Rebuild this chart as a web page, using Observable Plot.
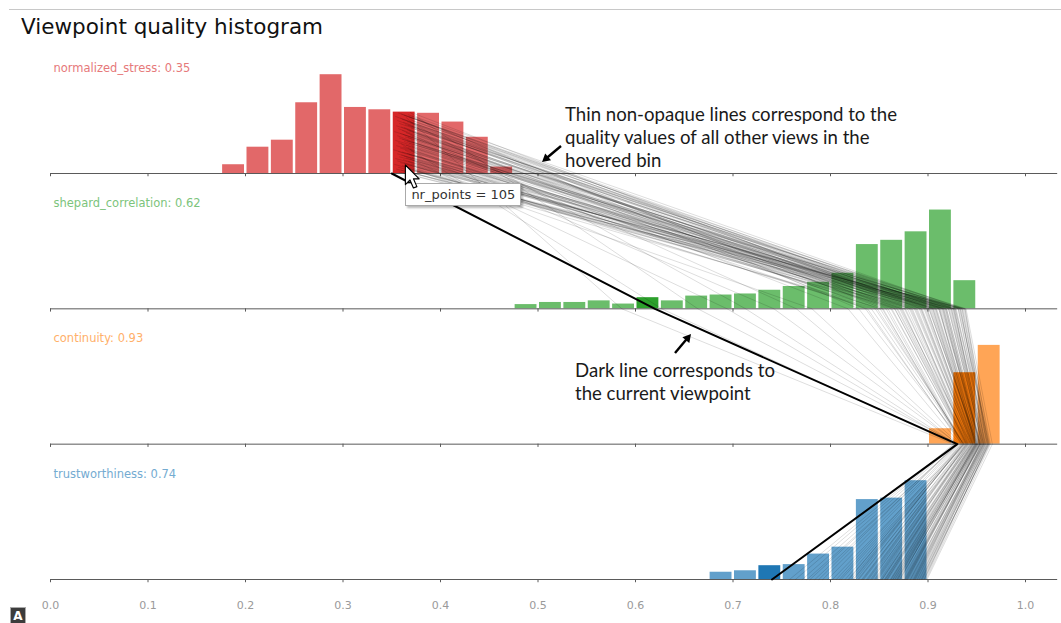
<!DOCTYPE html>
<html>
<head>
<meta charset="utf-8">
<script src="https://cdn.jsdelivr.net/npm/d3@7"></script>
<script src="https://cdn.jsdelivr.net/npm/@observablehq/plot@0.6"></script>
<style>
  html, body { margin: 0; padding: 0; background: #fff; }
  #page { position: relative; width: 1061px; height: 623px; overflow: hidden; font-family: "DejaVu Sans", sans-serif; }
  #rule { position: absolute; left: 9px; right: 0; top: 9px; border-top: 1px solid #c8c8c8; }
  #title { position: absolute; left: 21px; top: 14px; font-size: 21.5px; color: #111; white-space: nowrap; }
  #chart { position: absolute; left: 0; top: 30px; }
  .note { position: absolute; font-family: Lato, sans-serif; font-size: 18.6px; line-height: 23px; color: #1a1a1a; white-space: nowrap; }
  #tip { position: absolute; background: #fff; border: 1px solid #aaa; box-shadow: 2px 2px 2px rgba(0,0,0,0.28);
         font-size: 13px; color: #333; height: 21px; line-height: 21px; padding: 0 5px; white-space: nowrap; }
  #overlay { position: absolute; left: 0; top: 0; pointer-events: none; }
  #badge { position: absolute; left: 10px; top: 607px; width: 14px; height: 16px; background: #3c3c3c; border: 1px solid #aaa;
           color: #fff; font-size: 12px; font-weight: bold; line-height: 16px; text-align: center; }
</style>
</head>
<body>
<div id="page">
  <div id="rule"></div>
  <div id="title">Viewpoint quality histogram</div>
  <div id="chart"></div>
  <div class="note" id="noteThin">Thin non-opaque lines correspond to the<br>quality values of all other views in the<br>hovered bin</div>
  <div class="note" id="noteDark">Dark line corresponds to<br>the current viewpoint</div>
  <div id="tip"></div>
  <svg id="overlay" width="1061" height="623"></svg>
  <div id="badge">A</div>
</div>
<script>
// Quality metrics, one histogram row each
const metrics = ["normalized_stress", "shepard_correlation", "continuity", "trustworthiness"];
const metricColors = ["#d62728", "#2ca02c", "#ff7f0e", "#1f77b4"];
// Quality values of the current viewpoint
const currentValues = [0.35, 0.62, 0.93, 0.74];

// Histogram bins (width 0.025): first bin start and counts per bin
const binWidth = 0.025;
const stressStart = 0.175;
const stressCounts = [15, 45, 57, 121, 169, 113, 109, 105, 103, 88, 62, 11];
const shepardStart = 0.475;
const shepardCounts = [8, 12, 12, 15, 9, 21, 15, 24, 26, 28, 35, 42, 50, 67, 121, 129, 145, 186, 53];
const continuityStart = 0.9;
const continuityCounts = [83, 384, 531];
const trustStart = 0.675;
const trustCounts = [20, 24, 38, 41, 70, 89, 220, 224, 272];

// Quality values of the other views in the hovered normalized_stress bin
const viewStress = [
  0.362,0.371,0.358,0.366,0.374,0.360,0.369,0.355,0.372,0.364,
  0.357,0.368,0.373,0.361,0.366,0.353,0.370,0.363,0.359,0.374,
  0.367,0.356,0.372,0.362,0.369,0.354,0.365,0.371,0.358,0.363,
  0.373,0.360,0.368,0.356,0.366,0.372,0.361,0.357,0.370,0.364,
  0.352,0.369,0.374,0.359,0.367,0.362,0.371,0.355,0.365,0.373,
  0.360,0.368,0.357,0.372,0.363,0.366,0.354,0.370,0.361,0.374,
  0.358,0.367,0.364,0.371,0.356,0.369,0.362,0.373,0.359,0.365,
  0.372,0.353,0.368,0.361,0.366,0.374,0.357,0.370,0.363,0.360,
  0.371,0.355,0.367,0.364,0.373,0.358,0.369,0.362,0.366,0.372,
  0.356,0.370,0.361,0.374,0.359,0.365,0.368,0.354,0.371,0.363,
  0.367,0.360,0.373,0.357,0.369];
const viewShepard = [
  0.912,0.884,0.927,0.853,0.901,0.938,0.872,0.918,0.846,0.893,
  0.925,0.868,0.907,0.781,0.931,0.889,0.915,0.842,0.936,0.898,
  0.876,0.921,0.862,0.909,0.694,0.928,0.887,0.903,0.934,0.857,
  0.917,0.879,0.896,0.924,0.838,0.911,0.932,0.866,0.905,0.742,
  0.919,0.891,0.929,0.874,0.908,0.851,0.937,0.883,0.913,0.899,
  0.627,0.922,0.869,0.906,0.935,0.881,0.916,0.848,0.926,0.894,
  0.911,0.863,0.933,0.902,0.818,0.923,0.886,0.914,0.871,0.939,
  0.897,0.924,0.859,0.765,0.908,0.931,0.877,0.918,0.892,0.836,
  0.927,0.905,0.882,0.938,0.713,0.915,0.866,0.921,0.899,0.933,
  0.873,0.912,0.926,0.854,0.904,0.586,0.919,0.888,0.935,0.901,
  0.829,0.916,0.893,0.928,0.664];
const viewContinuity = [
  0.948,0.941,0.955,0.936,0.951,0.960,0.944,0.953,0.938,0.947,
  0.957,0.940,0.950,0.932,0.959,0.945,0.952,0.937,0.962,0.949,
  0.943,0.956,0.939,0.951,0.928,0.961,0.946,0.950,0.958,0.935,
  0.954,0.942,0.948,0.957,0.934,0.953,0.963,0.940,0.949,0.931,
  0.955,0.946,0.959,0.939,0.952,0.936,0.964,0.944,0.954,0.948,
  0.927,0.956,0.941,0.950,0.961,0.943,0.953,0.937,0.958,0.947,
  0.951,0.938,0.962,0.949,0.933,0.957,0.945,0.954,0.940,0.966,
  0.948,0.955,0.936,0.930,0.950,0.960,0.942,0.953,0.946,0.935,
  0.957,0.949,0.944,0.963,0.929,0.952,0.939,0.956,0.947,0.961,
  0.941,0.951,0.958,0.934,0.949,0.926,0.954,0.945,0.962,0.950,
  0.937,0.953,0.946,0.959,0.931];
const viewTrust = [
  0.872,0.851,0.889,0.823,0.866,0.894,0.842,0.878,0.811,0.858,
  0.885,0.834,0.869,0.792,0.891,0.855,0.876,0.818,0.897,0.862,
  0.846,0.881,0.828,0.871,0.771,0.893,0.853,0.864,0.887,0.826,
  0.879,0.845,0.859,0.884,0.806,0.873,0.895,0.837,0.868,0.784,
  0.882,0.857,0.890,0.841,0.870,0.815,0.898,0.849,0.877,0.863,
  0.764,0.886,0.832,0.867,0.893,0.848,0.880,0.821,0.888,0.856,
  0.874,0.829,0.896,0.865,0.797,0.883,0.852,0.876,0.838,0.899,
  0.861,0.885,0.824,0.779,0.869,0.892,0.843,0.879,0.858,0.809,
  0.887,0.866,0.847,0.894,0.788,0.875,0.833,0.882,0.862,0.891,
  0.839,0.871,0.886,0.819,0.864,0.758,0.878,0.853,0.896,0.868,
  0.802,0.877,0.856,0.889,0.776];

// Axis ticks
const xTicks = [0, 0.1, 0.2, 0.3, 0.4, 0.5, 0.6, 0.7, 0.8, 0.9, 1.0];

// ---- layout helpers: row k (1..4) has its baseline at y = k
const barScale = 0.73;      // tallest bar of a row, in row units
const histograms = [
  {start: stressStart, counts: stressCounts},
  {start: shepardStart, counts: shepardCounts},
  {start: continuityStart, counts: continuityCounts},
  {start: trustStart, counts: trustCounts}
];
const lighten = (c, t) => d3.interpolateRgb("#ffffff", c)(t);

const bars = [];
histograms.forEach((h, k) => {
  const max = d3.max(h.counts);
  const hot = Math.floor((currentValues[k] - h.start) / binWidth + 1e-9);
  h.hot = hot; h.max = max;
  h.counts.forEach((c, i) => {
    bars.push({
      x1: h.start + i * binWidth,
      x2: h.start + (i + 1) * binWidth,
      y1: k + 1,
      y2: k + 1 - c / max * barScale,
      fill: i === hot ? metricColors[k] : lighten(metricColors[k], 0.7)
    });
  });
});

// Polylines of the views in the hovered bin; they leave the hovered bar stacked along its height
const hovered = histograms[0];
const hoverHeight = hovered.counts[hovered.hot] / hovered.max * barScale;
const n = viewStress.length;
const viewPoints = [];
for (let j = 0; j < n; ++j) {
  viewPoints.push({id: j, x: viewStress[j], y: 1 - (j + 0.5) / n * hoverHeight});
  viewPoints.push({id: j, x: viewShepard[j], y: 2});
  viewPoints.push({id: j, x: viewContinuity[j], y: 3});
  viewPoints.push({id: j, x: viewTrust[j], y: 4});
}
const currentPoints = currentValues.map((v, k) => ({x: v, y: k + 1}));

const rowTicks = [];
[1, 2, 3, 4].forEach(k => xTicks.forEach(t => rowTicks.push({k, t})));

const chart = Plot.plot({
  width: 1061,
  height: 593,
  marginLeft: 50,
  marginRight: 36,
  marginTop: 7.67,
  marginBottom: 44,
  x: {domain: [0, 1], label: null},
  y: {domain: [0, 4], reverse: true, axis: null},
  color: {type: "identity"},
  style: {fontFamily: "DejaVu Sans, sans-serif", background: "transparent", overflow: "visible"},
  marks: [
    Plot.rect(bars, {x1: "x1", x2: "x2", y1: "y1", y2: "y2", fill: "fill", insetLeft: 1.5, insetRight: 1}),
    Plot.ruleY([1, 2, 3, 4], {x1: () => 0, x2: () => 1.033, stroke: "#5a5a5a", strokeWidth: 1}),
    Plot.ruleX(rowTicks, {x: "t", y1: "k", y2: d => d.k + 0.024, stroke: "#5a5a5a"}),
    Plot.line(viewPoints, {x: "x", y: "y", z: "id", stroke: "#000", strokeOpacity: 0.18, strokeWidth: 0.75}),
    Plot.line(currentPoints, {x: "x", y: "y", stroke: "#000", strokeWidth: 2}),
    Plot.text(metrics, {
      frameAnchor: "left", dx: 3,
      y: (d, i) => i + 1 - 0.78,
      text: (d, i) => `${d}: ${currentValues[i]}`,
      fill: (d, i) => lighten(metricColors[i], 0.62),
      textAnchor: "start", fontSize: 11.5
    }),
    Plot.axisX({ticks: xTicks, tickFormat: d => d.toFixed(1), tickSize: 0, tickPadding: 22, color: "#9a9a9a", fontSize: 11, label: null})
  ]
});
document.getElementById("chart").appendChild(chart);

// Hover decorations placed through the chart's scales
const xs = chart.scale("x"), ys = chart.scale("y");
const chartTop = 30;
const hoverX = xs.apply(hovered.start + (hovered.hot + 0.58) * binWidth);
const hoverY = chartTop + ys.apply(1);

const tip = document.getElementById("tip");
tip.textContent = `nr_points = ${hovered.counts[hovered.hot]}`;
tip.style.left = `${hoverX}px`;
tip.style.top = `${hoverY + 10}px`;

const noteThin = document.getElementById("noteThin");
noteThin.style.left = "565px"; noteThin.style.top = "103px";
const noteDark = document.getElementById("noteDark");
noteDark.style.left = "575px"; noteDark.style.top = "359px";

const ov = d3.select("#overlay");
function arrow(x1, y1, x2, y2) {
  const a = Math.atan2(y2 - y1, x2 - x1), L = 8, W = 4.5;
  ov.append("line").attr("x1", x1).attr("y1", y1)
    .attr("x2", x2 - Math.cos(a) * 5).attr("y2", y2 - Math.sin(a) * 5)
    .attr("stroke", "#000").attr("stroke-width", 2.4);
  const bx = x2 - Math.cos(a) * L, by = y2 - Math.sin(a) * L;
  ov.append("path")
    .attr("d", `M${x2},${y2}L${bx - Math.sin(a) * W},${by + Math.cos(a) * W}L${bx + Math.sin(a) * W},${by - Math.cos(a) * W}Z`)
    .attr("fill", "#000");
}
arrow(561, 146, 542, 162);
arrow(675, 353, 691, 334);

// mouse pointer over the hovered bar
ov.append("path")
  .attr("transform", `translate(${hoverX},${hoverY - 8}) scale(1.15)`)
  .attr("d", "M0,0L0,17L4,13L7,20L10,18.8L7,12L12,12Z")
  .attr("fill", "#fff").attr("stroke", "#000").attr("stroke-width", 1).attr("stroke-linejoin", "round");
</script>
</body>
</html>
